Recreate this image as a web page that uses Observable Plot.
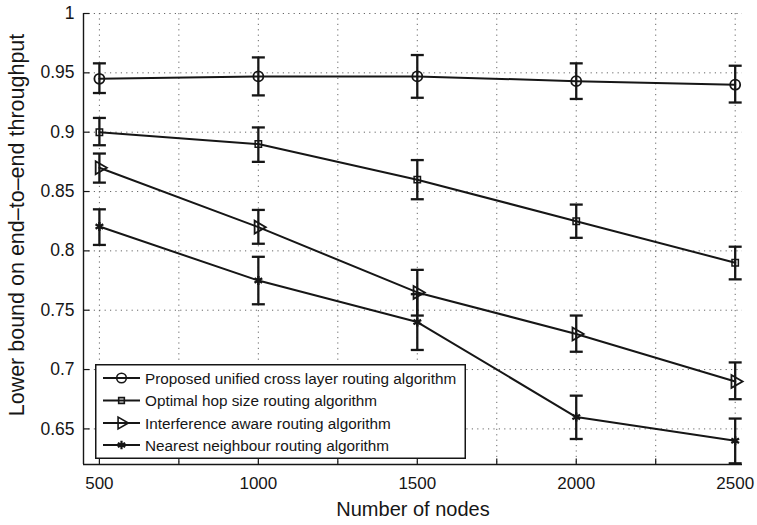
<!DOCTYPE html>
<html>
<head>
<meta charset="utf-8">
<script src="https://cdn.jsdelivr.net/npm/d3@7"></script>
<script src="https://cdn.jsdelivr.net/npm/@observablehq/plot@0.6"></script>
<style>
  html, body { margin: 0; padding: 0; background: #fff; }
  #wrap { position: relative; width: 757px; height: 525px; font-family: "Liberation Sans", Arial, Helvetica, sans-serif; }
  #legend { position: absolute; left: 95px; top: 364px; }
</style>
</head>
<body>
<div id="wrap"></div>
<script>
// ---- data ----
const nodes = [500, 1000, 1500, 2000, 2500];
const seriesNames = [
  "Proposed unified cross layer routing algorithm",
  "Optimal hop size routing algorithm",
  "Interference aware routing algorithm",
  "Nearest neighbour routing algorithm"
];
const proposed   = [0.945, 0.947, 0.947, 0.943, 0.940];
const proposedLo = [0.933, 0.931, 0.929, 0.928, 0.925];
const proposedHi = [0.958, 0.963, 0.965, 0.958, 0.956];

const optimal    = [0.900, 0.890, 0.860, 0.825, 0.790];
const optimalLo  = [0.889, 0.875, 0.8435, 0.811, 0.776];
const optimalHi  = [0.912, 0.904, 0.8765, 0.839, 0.8035];

const interf     = [0.870, 0.820, 0.765, 0.730, 0.690];
const interfLo   = [0.8575, 0.806, 0.7455, 0.715, 0.675];
const interfHi   = [0.882, 0.8345, 0.784, 0.7455, 0.706];

const nearest    = [0.8205, 0.775, 0.740, 0.660, 0.640];
const nearestLo  = [0.805, 0.755, 0.7165, 0.6415, 0.621];
const nearestHi  = [0.835, 0.795, 0.7635, 0.678, 0.6587];

const xTickLabels = [500, 1000, 1500, 2000, 2500];
const xGridTicks  = [500, 750, 1000, 1250, 1500, 1750, 2000, 2250, 2500];
const yTickLabels = [0.65, 0.7, 0.75, 0.8, 0.85, 0.9, 0.95, 1];
const xTitle = "Number of nodes";
const yTitle = "Lower bound on end\u2013to\u2013end throughput";

// ---- build table ----
const seriesVals = [[proposed, proposedLo, proposedHi], [optimal, optimalLo, optimalHi], [interf, interfLo, interfHi], [nearest, nearestLo, nearestHi]];
const rows = [];
seriesVals.forEach(([v, lo, hi], s) => nodes.forEach((n, i) => rows.push({series: seriesNames[s], s, x: n, y: v[i], lo: lo[i], hi: hi[i]})));
const bySeries = s => rows.filter(d => d.s === s);

// custom symbols
const hCap = { draw(ctx, size) { const w = Math.sqrt(size / Math.PI); ctx.moveTo(-w, 0); ctx.lineTo(w, 0); } };
const vTickSym = { draw(ctx, size) { const w = Math.sqrt(size / Math.PI); ctx.moveTo(0, 0); ctx.lineTo(0, -w); } };
const hTickSym = { draw(ctx, size) { const w = Math.sqrt(size / Math.PI); ctx.moveTo(0, 0); ctx.lineTo(w, 0); } };

const ink = "#161616";
const font = "Liberation Sans, Arial, Helvetica, sans-serif";

const chart = Plot.plot({
  width: 757,
  height: 525,
  marginLeft: 83,
  marginRight: 15,
  marginTop: 13,
  marginBottom: 61,
  style: { fontFamily: font, background: "#fff", color: ink, overflow: "visible" },
  x: { domain: [450, 2523] },
  y: { domain: [0.62, 1] },
  marks: [
    Plot.gridX(xGridTicks, { stroke: "#666", strokeOpacity: 1, strokeWidth: 1, strokeDasharray: "1.2,4.2" }),
    Plot.gridY(yTickLabels, { stroke: "#666", strokeOpacity: 1, strokeWidth: 1, strokeDasharray: "1.2,4.2" }),
    Plot.axisX(xTickLabels, { tickSize: 0, tickPadding: 12, fontSize: 17, label: null, tickFormat: d => String(d) }),
    Plot.axisY(yTickLabels, { tickSize: 0, tickPadding: 9, fontSize: 17.5, label: null, tickFormat: d => String(+d.toFixed(2)) }),
    Plot.ruleX([450], { stroke: ink, strokeWidth: 1.4 }),
    Plot.ruleY([0.62], { stroke: ink, strokeWidth: 1.4 }),
    Plot.dot(xGridTicks, { x: d => d, frameAnchor: "bottom", symbol: vTickSym, r: 6, stroke: ink, strokeWidth: 1.2 }),
    Plot.dot(yTickLabels, { y: d => d, frameAnchor: "left", symbol: hTickSym, r: 6, stroke: ink, strokeWidth: 1.2 }),
    // lines
    ...[0, 1, 2, 3].map(s => Plot.line(bySeries(s), { x: "x", y: "y", stroke: ink, strokeWidth: 2 })),
    // error bars
    Plot.ruleX(rows, { x: "x", y1: "lo", y2: "hi", stroke: ink, strokeWidth: 2.3 }),
    Plot.dot(rows, { x: "x", y: "lo", symbol: hCap, r: 6.5, stroke: ink, strokeWidth: 2.3 }),
    Plot.dot(rows, { x: "x", y: "hi", symbol: hCap, r: 6.5, stroke: ink, strokeWidth: 2.3 }),
    // markers
    Plot.dot(bySeries(0), { x: "x", y: "y", symbol: "circle", r: 5, stroke: ink, strokeWidth: 1.8, fill: "none" }),
    Plot.dot(bySeries(1), { x: "x", y: "y", symbol: "square", r: 3.6, stroke: ink, strokeWidth: 1.5, fill: "none" }),
    Plot.dot(bySeries(2), { x: "x", y: "y", symbol: "triangle", r: 4.8, rotate: 90, stroke: ink, strokeWidth: 1.8, fill: "none" }),
    Plot.dot(bySeries(3), { x: "x", y: "y", symbol: "asterisk", r: 4.2, stroke: ink, strokeWidth: 2.4, fill: "none" }),
    // titles
    Plot.text([xTitle], { text: d => d, frameAnchor: "bottom", textAnchor: "middle", dy: 51, fontSize: 20, fill: ink }),
    Plot.text([yTitle], { text: d => d, frameAnchor: "left", textAnchor: "middle", rotate: -90, dx: -66, dy: -14, fontSize: 21.5, fill: ink })
  ]
});

const wrap = document.getElementById("wrap");
wrap.appendChild(chart);

// ---- legend (overlay inside plot area) ----
const ns = "http://www.w3.org/2000/svg";
const lw = 371, lh = 95;
const leg = document.createElementNS(ns, "svg");
leg.setAttribute("id", "legend");
leg.setAttribute("width", lw);
leg.setAttribute("height", lh);
leg.style.position = "absolute";
leg.style.left = "95px";
leg.style.top = "364px";
const el = (tag, attrs, parent) => { const e = document.createElementNS(ns, tag); for (const k in attrs) e.setAttribute(k, attrs[k]); (parent || leg).appendChild(e); return e; };
el("rect", { x: 0.75, y: 0.75, width: lw - 1.5, height: lh - 1.5, fill: "#fff", stroke: ink, "stroke-width": 1.5 });
const rowY = [14, 36.5, 59, 81];
const symNames = ["circle", "square", "triangle", "asterisk"];
const symSizes = [4.8, 3.2, 4.4, 4.0];
seriesNames.forEach((name, i) => {
  const y = rowY[i];
  el("line", { x1: 8, x2: 45, y1: y, y2: y, stroke: ink, "stroke-width": 2 });
  const r = symSizes[i];
  const sym = d3.symbol(d3["symbol" + symNames[i][0].toUpperCase() + symNames[i].slice(1)], r * r * Math.PI)();
  el("path", { d: sym, transform: `translate(26.5,${y})` + (i === 2 ? " rotate(90)" : ""), fill: "none", stroke: ink, "stroke-width": i === 3 ? 2.2 : 1.6 });
  const t = el("text", { x: 50, y: y, "dominant-baseline": "central", "font-size": 15.3, "font-family": font, fill: ink });
  t.textContent = name;
});
wrap.appendChild(leg);
</script>
</body>
</html>
